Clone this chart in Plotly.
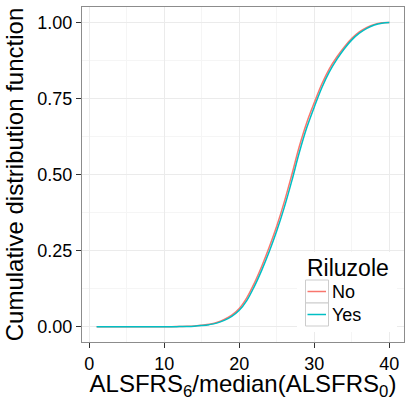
import plotly.graph_objects as go

x_vals = list(range(1, 41))
cdf_no = [0, 0, 0, 0, 0, 0, 0, 0, 0, 0, 0, 0.001, 0.0015, 0.0025, 0.005, 0.008, 0.014, 0.024,
          0.038, 0.06, 0.095, 0.143, 0.199, 0.262, 0.331, 0.41, 0.499, 0.592, 0.671, 0.736,
          0.797, 0.847, 0.886, 0.919, 0.947, 0.968, 0.983, 0.993, 0.998, 0.999]
cdf_yes = [0, 0, 0, 0, 0, 0, 0, 0, 0, 0, 0, 0.0005, 0.001, 0.002, 0.004, 0.007, 0.012, 0.021,
           0.034, 0.054, 0.086, 0.132, 0.186, 0.247, 0.315, 0.392, 0.479, 0.572, 0.654, 0.722,
           0.785, 0.837, 0.878, 0.913, 0.942, 0.964, 0.98, 0.991, 0.997, 0.999]
series_names = ["No", "Yes"]
colors = ["#F8766D", "#00BFC4"]
legend_title = "Riluzole"
x_ticks = [0, 10, 20, 30, 40]
y_ticks = [0, 0.25, 0.5, 0.75, 1.0]
y_tick_labels = ["0.00", "0.25", "0.50", "0.75", "1.00"]

FONT = "Liberation Sans, Arial, sans-serif"

# panel geometry in pixels (for the drawn legend)
W, H = 405, 401
ML, MR, MT, MB = 82, 1, 7, 59
PW, PH = W - ML - MR, H - MT - MB


def px(xp):
    return (xp - ML) / PW


def py(yp):
    return (H - MB - yp) / PH


fig = go.Figure()
for name, vals, col in zip(series_names, [cdf_no, cdf_yes], colors):
    fig.add_trace(go.Scatter(x=x_vals, y=vals, mode="lines", name=name, showlegend=False,
                             line=dict(color=col, width=1.5, shape="spline")))

axis_common = dict(showline=True, mirror=True, linecolor="#8c8c8c", linewidth=1,
                   showgrid=True, gridcolor="#EBEBEB", gridwidth=1, automargin=False,
                   ticks="outside", ticklen=5, tickcolor="#333333", tickwidth=1,
                   zeroline=False, tickfont=dict(size=18, color="#000000", family=FONT))

fig.update_xaxes(range=[-0.95, 41.95], tickvals=x_ticks,
                 minor=dict(showgrid=True, gridcolor="#F5F5F5", gridwidth=1, dtick=5, tick0=5),
                 title=dict(text="ALSFRS<sub>6</sub>/median(ALSFRS<sub>0</sub>)",
                            font=dict(size=24, color="#000000", family=FONT), standoff=8),
                 **axis_common)
fig.update_yaxes(range=[-0.05, 1.05], tickvals=y_ticks, ticktext=y_tick_labels,
                 minor=dict(showgrid=True, gridcolor="#F5F5F5", gridwidth=1, dtick=0.125, tick0=0.125),
                 title=dict(text="Cumulative distribution function",
                            font=dict(size=24, color="#000000", family=FONT), standoff=6),
                 **axis_common)

# legend drawn inside the panel (ggplot style: boxed keys)
shapes = [dict(type="rect", xref="paper", yref="paper", layer="above",
               x0=px(297), x1=px(397), y0=py(332), y1=py(252),
               fillcolor="white", line=dict(width=0))]
annotations = [dict(text=legend_title, xref="paper", yref="paper", x=px(305), y=py(268),
                    xanchor="left", yanchor="middle", showarrow=False,
                    font=dict(size=23, family=FONT, color="#000000"))]
key_top = 280
key_h = 23
for i, (name, col) in enumerate(zip(series_names, colors)):
    y0 = key_top + i * key_h
    shapes.append(dict(type="rect", xref="paper", yref="paper", layer="above",
                       x0=px(305.5), x1=px(328.5), y0=py(y0 + key_h), y1=py(y0),
                       fillcolor="white", line=dict(color="#CCCCCC", width=1)))
    shapes.append(dict(type="line", xref="paper", yref="paper", layer="above",
                       x0=px(307.5), x1=px(326), y0=py(y0 + key_h / 2), y1=py(y0 + key_h / 2),
                       line=dict(color=col, width=1.5)))
    annotations.append(dict(text=name, xref="paper", yref="paper", x=px(329.5),
                            y=py(y0 + key_h / 2), xanchor="left", yanchor="middle",
                            showarrow=False, font=dict(size=18, family=FONT, color="#000000")))

fig.update_layout(
    width=W, height=H,
    margin=dict(l=ML, r=MR, t=MT, b=MB),
    plot_bgcolor="white", paper_bgcolor="white",
    font=dict(family=FONT, color="#000000"),
    showlegend=False,
    shapes=shapes, annotations=annotations,
)

fig.write_html("out.html", config={"displayModeBar": False},
               post_script="document.body.style.margin='0px';document.body.style.overflow='hidden';")
